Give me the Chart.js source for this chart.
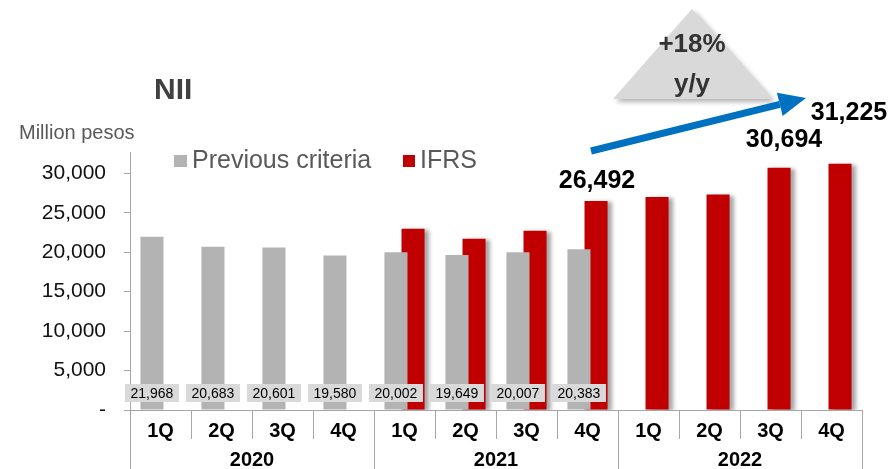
<!DOCTYPE html>
<html>
<head>
<meta charset="utf-8">
<script src="https://cdn.jsdelivr.net/npm/chart.js@4"></script>
<style>
  html, body { margin: 0; padding: 0; background: #fff; }
  #wrap { width: 890px; height: 469px; }
</style>
</head>
<body>
<div id="wrap"><canvas id="chart" width="890" height="469"></canvas></div>
<script>
// datos del gráfico
const quarters = ['1Q', '2Q', '3Q', '4Q', '1Q', '2Q', '3Q', '4Q', '1Q', '2Q', '3Q', '4Q'];
const years = ['2020', '2021', '2022'];
const previousCriteria = [21968, 20683, 20601, 19580, 20002, 19649, 20007, 20383, null, null, null, null];
const ifrs = [null, null, null, null, 22980, 21710, 22730, 26492, 26990, 27300, 30694, 31225];
const ifrsLabelled = { 7: '26,492', 10: '30,694', 11: '31,225' };
const yTicks = [0, 5000, 10000, 15000, 20000, 25000, 30000];

const FONT = '"Liberation Sans", Arial, sans-serif';
const GRAY = '#b3b3b3';
const RED = '#c00000';

function fmt(v) {
    return v.toLocaleString('en-US');
}

// sombra para las barras rojas
const shadowPlugin = {
    id: 'barShadow',
    beforeDatasetDraw(chart, args) {
        if (args.index === 1) {
            const ctx = chart.ctx;
            ctx.save();
            ctx.shadowColor = 'rgba(0,0,0,0.35)';
            ctx.shadowBlur = 4;
            ctx.shadowOffsetX = 4;
            ctx.shadowOffsetY = 1;
        }
    },
    afterDatasetDraw(chart, args) {
        if (args.index === 1) chart.ctx.restore();
    }
};

// textos, leyenda, etiquetas y anotaciones
const decorPlugin = {
    id: 'decor',
    afterDraw(chart) {
        const ctx = chart.ctx;
        const x = chart.scales.x;
        const area = chart.chartArea;
        ctx.save();

        // título y unidades
        ctx.fillStyle = '#404040';
        ctx.font = 'bold 30px ' + FONT;
        ctx.textAlign = 'left';
        ctx.textBaseline = 'middle';
        ctx.fillText('NII', 154, 91);
        ctx.fillStyle = '#595959';
        ctx.font = '20px ' + FONT;
        ctx.fillText('Million pesos', 19, 133);

        // leyenda
        ctx.font = '25px ' + FONT;
        ctx.fillStyle = GRAY;
        ctx.fillRect(174, 155, 13, 12);
        ctx.fillStyle = '#595959';
        ctx.fillText(chart.data.datasets[0].label, 192, 161);
        ctx.fillStyle = RED;
        ctx.fillRect(403, 155, 12, 12);
        ctx.fillStyle = '#595959';
        ctx.fillText(chart.data.datasets[1].label, 420, 161);

        // separadores del eje x
        const step = x.getPixelForValue(1) - x.getPixelForValue(0);
        ctx.strokeStyle = '#a6a6a6';
        ctx.lineWidth = 1;
        for (let i = 0; i <= quarters.length; i++) {
            const bx = Math.round(x.getPixelForValue(0) - step / 2 + step * i) + 0.5;
            const isYear = i % 4 === 0;
            ctx.beginPath();
            ctx.moveTo(bx, area.bottom);
            ctx.lineTo(bx, isYear ? 469 : 439);
            ctx.stroke();
        }

        // años
        ctx.fillStyle = '#000';
        ctx.font = 'bold 20px ' + FONT;
        ctx.textAlign = 'center';
        years.forEach((y, k) => {
            const cx = (x.getPixelForValue(k * 4) + x.getPixelForValue(k * 4 + 3)) / 2;
            ctx.fillText(y, cx, 460);
        });

        // etiquetas de criterio anterior
        const meta0 = chart.getDatasetMeta(0);
        ctx.font = '14px ' + FONT;
        previousCriteria.forEach((v, i) => {
            if (v == null) return;
            const bx = meta0.data[i].x;
            ctx.fillStyle = '#d9d9d9';
            ctx.fillRect(bx - 27, 384, 54, 18);
            ctx.fillStyle = '#000';
            ctx.fillText(fmt(v), bx, 394);
        });

        // etiquetas IFRS destacadas
        const meta1 = chart.getDatasetMeta(1);
        const offsets = { 7: [1, -20], 10: [5, -28], 11: [9, -51] };
        ctx.font = 'bold 25px ' + FONT;
        Object.keys(ifrsLabelled).forEach(k => {
            const el = meta1.data[k];
            const o = offsets[k];
            ctx.fillText(ifrsLabelled[k], el.x + o[0], el.y + o[1]);
        });

        // triángulo +18%
        ctx.save();
        ctx.shadowColor = 'rgba(0,0,0,0.3)';
        ctx.shadowBlur = 5;
        ctx.shadowOffsetX = 3;
        ctx.shadowOffsetY = 3;
        ctx.fillStyle = '#d9d9d9';
        ctx.beginPath();
        ctx.moveTo(692, 9);
        ctx.lineTo(772, 99);
        ctx.lineTo(613, 99);
        ctx.closePath();
        ctx.fill();
        ctx.restore();
        ctx.fillStyle = '#333';
        ctx.font = 'bold 26px ' + FONT;
        ctx.fillText('+18%', 692, 45);
        ctx.fillText('y/y', 692, 85);

        // flecha azul
        const x0 = 591, y0 = 151, x1 = 806, y1 = 98;
        const ang = Math.atan2(y1 - y0, x1 - x0);
        const hl = 27, hw = 12;
        const bxh = x1 - hl * Math.cos(ang), byh = y1 - hl * Math.sin(ang);
        ctx.strokeStyle = '#0070c0';
        ctx.fillStyle = '#0070c0';
        ctx.lineWidth = 7;
        ctx.beginPath();
        ctx.moveTo(x0, y0);
        ctx.lineTo(bxh, byh);
        ctx.stroke();
        ctx.beginPath();
        ctx.moveTo(x1, y1);
        ctx.lineTo(bxh + hw * Math.sin(ang), byh - hw * Math.cos(ang));
        ctx.lineTo(bxh - hw * Math.sin(ang), byh + hw * Math.cos(ang));
        ctx.closePath();
        ctx.fill();

        ctx.restore();
    }
};

new Chart(document.getElementById('chart'), {
    type: 'bar',
    data: {
        labels: quarters,
        datasets: [{
            label: 'Previous criteria',
            data: previousCriteria,
            backgroundColor: GRAY,
            categoryPercentage: 0.56,
            barPercentage: 1.35
        }, {
            label: 'IFRS',
            data: ifrs,
            backgroundColor: RED,
            categoryPercentage: 0.56,
            barPercentage: 1.35
        }]
    },
    options: {
        responsive: false,
        animation: false,
        skipNull: false,
        layout: { padding: { top: 152, right: 28, left: 0, bottom: 0 } },
        plugins: {
            legend: { display: false },
            tooltip: { enabled: false }
        },
        scales: {
            x: {
                grid: { display: false },
                border: { color: '#a6a6a6' },
                ticks: {
                    color: '#000',
                    font: { family: FONT, size: 20, weight: 'bold' },
                    padding: 1,
                    maxRotation: 0
                },
                afterFit(scale) { scale.height = 59; }
            },
            y: {
                min: 0,
                max: 32700,
                afterBuildTicks(scale) {
                    scale.ticks = yTicks.map(v => ({ value: v }));
                },
                grid: { drawOnChartArea: false, tickLength: 6, color: '#a6a6a6' },
                border: { color: '#a6a6a6' },
                ticks: {
                    color: '#111',
                    padding: 18,
                    font: { family: FONT, size: 21 },
                    callback: v => v === 0 ? '-' : fmt(v)
                },
                afterFit(scale) { scale.width = 130; }
            }
        }
    },
    plugins: [shadowPlugin, decorPlugin]
});
</script>
</body>
</html>
